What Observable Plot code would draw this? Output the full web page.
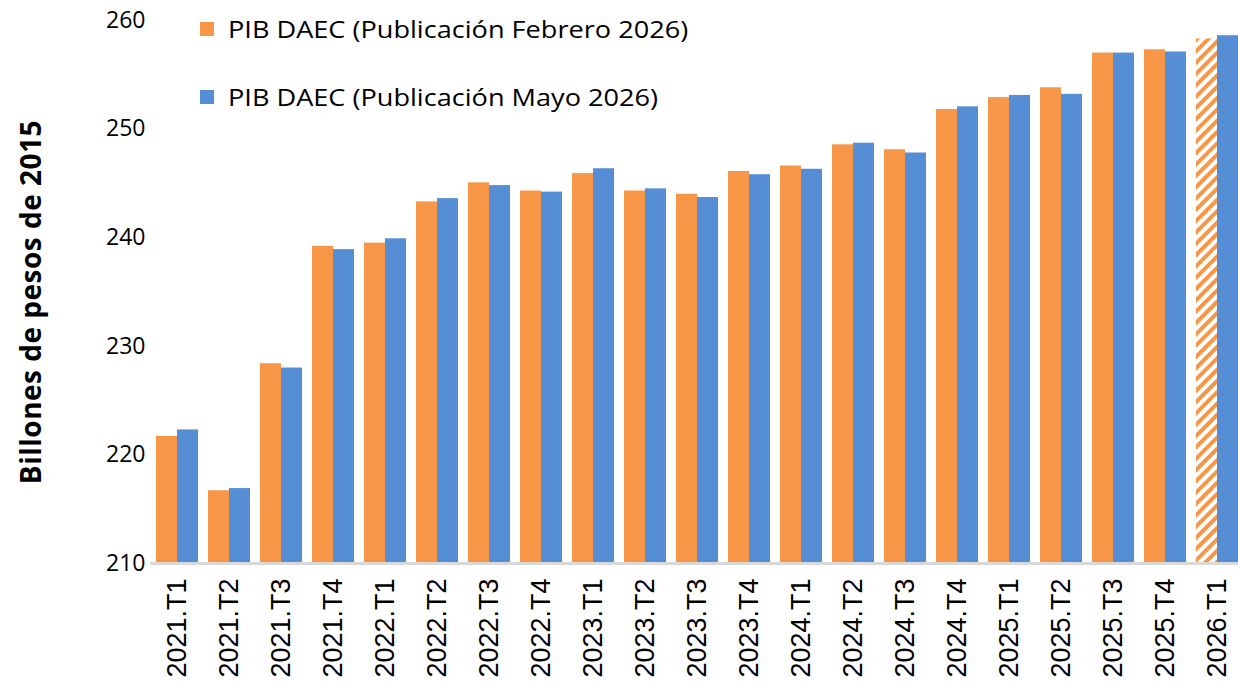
<!DOCTYPE html>
<html><head><meta charset="utf-8">
<script src="https://cdn.jsdelivr.net/npm/d3@7"></script>
<script src="https://cdn.jsdelivr.net/npm/@observablehq/plot@0.6"></script>
<style>
html,body{margin:0;padding:0;background:#fff;overflow:hidden;}
#wrap{position:relative;width:1238px;height:682px;}
#wrap svg{position:absolute;left:0;top:0;overflow:hidden}
.leg{position:absolute;left:200px;font-family:"Open Sans", sans-serif;font-size:24px;color:#000;display:flex;align-items:center;white-space:nowrap;line-height:1}
.leg span{display:inline-block;transform-origin:0 50%;transform:scaleX(1.13)}
.sw{width:14px;height:14px;margin-right:14px;flex:none}
#ytitle{position:absolute;left:30px;top:302px;transform:translate(-50%,-50%) rotate(-90deg);font-family:"Open Sans", sans-serif;font-weight:bold;font-size:28px;letter-spacing:0.5px;white-space:nowrap;color:#000}
</style></head><body><div id="wrap"></div>
<script>
const categories = ["2021.T1","2021.T2","2021.T3","2021.T4","2022.T1","2022.T2","2022.T3","2022.T4","2023.T1","2023.T2","2023.T3","2023.T4","2024.T1","2024.T2","2024.T3","2024.T4","2025.T1","2025.T2","2025.T3","2025.T4","2026.T1"];
const febrero = [221.7, 216.7, 228.4, 239.2, 239.5, 243.3, 245.05, 244.3, 245.9, 244.3, 244.0, 246.1, 246.6, 248.55, 248.1, 251.8, 252.9, 253.8, 257.0, 257.3, 258.3];
const mayo = [222.3, 216.9, 228.0, 238.9, 239.9, 243.6, 244.8, 244.2, 246.35, 244.5, 243.7, 245.8, 246.3, 248.7, 247.8, 252.05, 253.1, 253.2, 257.0, 257.1, 258.6];
const hatchedCategories = ["2026.T1"];
const yTicks = [210, 220, 230, 240, 250, 260];
const seriesNames = ["PIB DAEC (Publicación Febrero 2026)", "PIB DAEC (Publicación Mayo 2026)"];
const colors = ["#F79646", "#558ED5"];
const yTitle = "Billones de pesos de 2015";

const feb = categories.map((c, i) => ({cat: c, value: febrero[i], hatched: hatchedCategories.includes(c)}));
const may = categories.map((c, i) => ({cat: c, value: mayo[i]}));

const chart = Plot.plot({
  width: 1238, height: 682,
  marginLeft: 150, marginRight: 0, marginTop: 20, marginBottom: 119,
  x: {domain: categories, range: [147, 1247], paddingInner: 0.2, paddingOuter: 0.1, axis: null},
  y: {domain: [210, 260], axis: null},
  marks: [
    Plot.barY(feb.filter(d => !d.hatched), {x: "cat", y1: 210, y2: "value", fill: colors[0], insetRight: 21}),
    Plot.barY(feb.filter(d => d.hatched), {x: "cat", y1: 210, y2: "value", fill: "url(#hatch)", insetRight: 21}),
    Plot.barY(may, {x: "cat", y1: 210, y2: "value", fill: colors[1], insetLeft: 21}),
    Plot.ruleY([210], {stroke: "#D9D9D9", strokeWidth: 3}),
    Plot.axisY({ticks: yTicks, tickSize: 0, tickPadding: 5, fontSize: 23, fontFamily: "Open Sans, sans-serif", label: null, color: "#000"}),
    Plot.axisX({tickSize: 0, tickPadding: 15, tickRotate: -90, fontSize: 27, fontFamily: "Liberation Sans, Arial, sans-serif", label: null, color: "#000"})
  ]
});
const ns = "http://www.w3.org/2000/svg";
const defs = document.createElementNS(ns, "defs");
defs.innerHTML = `<pattern id="hatch" patternUnits="userSpaceOnUse" width="8" height="8" patternTransform="rotate(45)"><rect width="8" height="8" fill="#fff"/><rect width="4" height="8" fill="${colors[0]}"/></pattern>`;
chart.insertBefore(defs, chart.firstChild);
const wrap = document.getElementById("wrap");
wrap.appendChild(chart);

seriesNames.forEach((name, i) => {
  const d = document.createElement("div");
  d.className = "leg";
  d.style.top = (i === 0 ? 17 : 85) + "px";
  d.innerHTML = `<div class="sw" style="background:${colors[i]}"></div><span></span>`;
  d.querySelector("span").textContent = name;
  wrap.appendChild(d);
});
const t = document.createElement("div");
t.id = "ytitle";
t.textContent = yTitle;
wrap.appendChild(t);
</script></body></html>
